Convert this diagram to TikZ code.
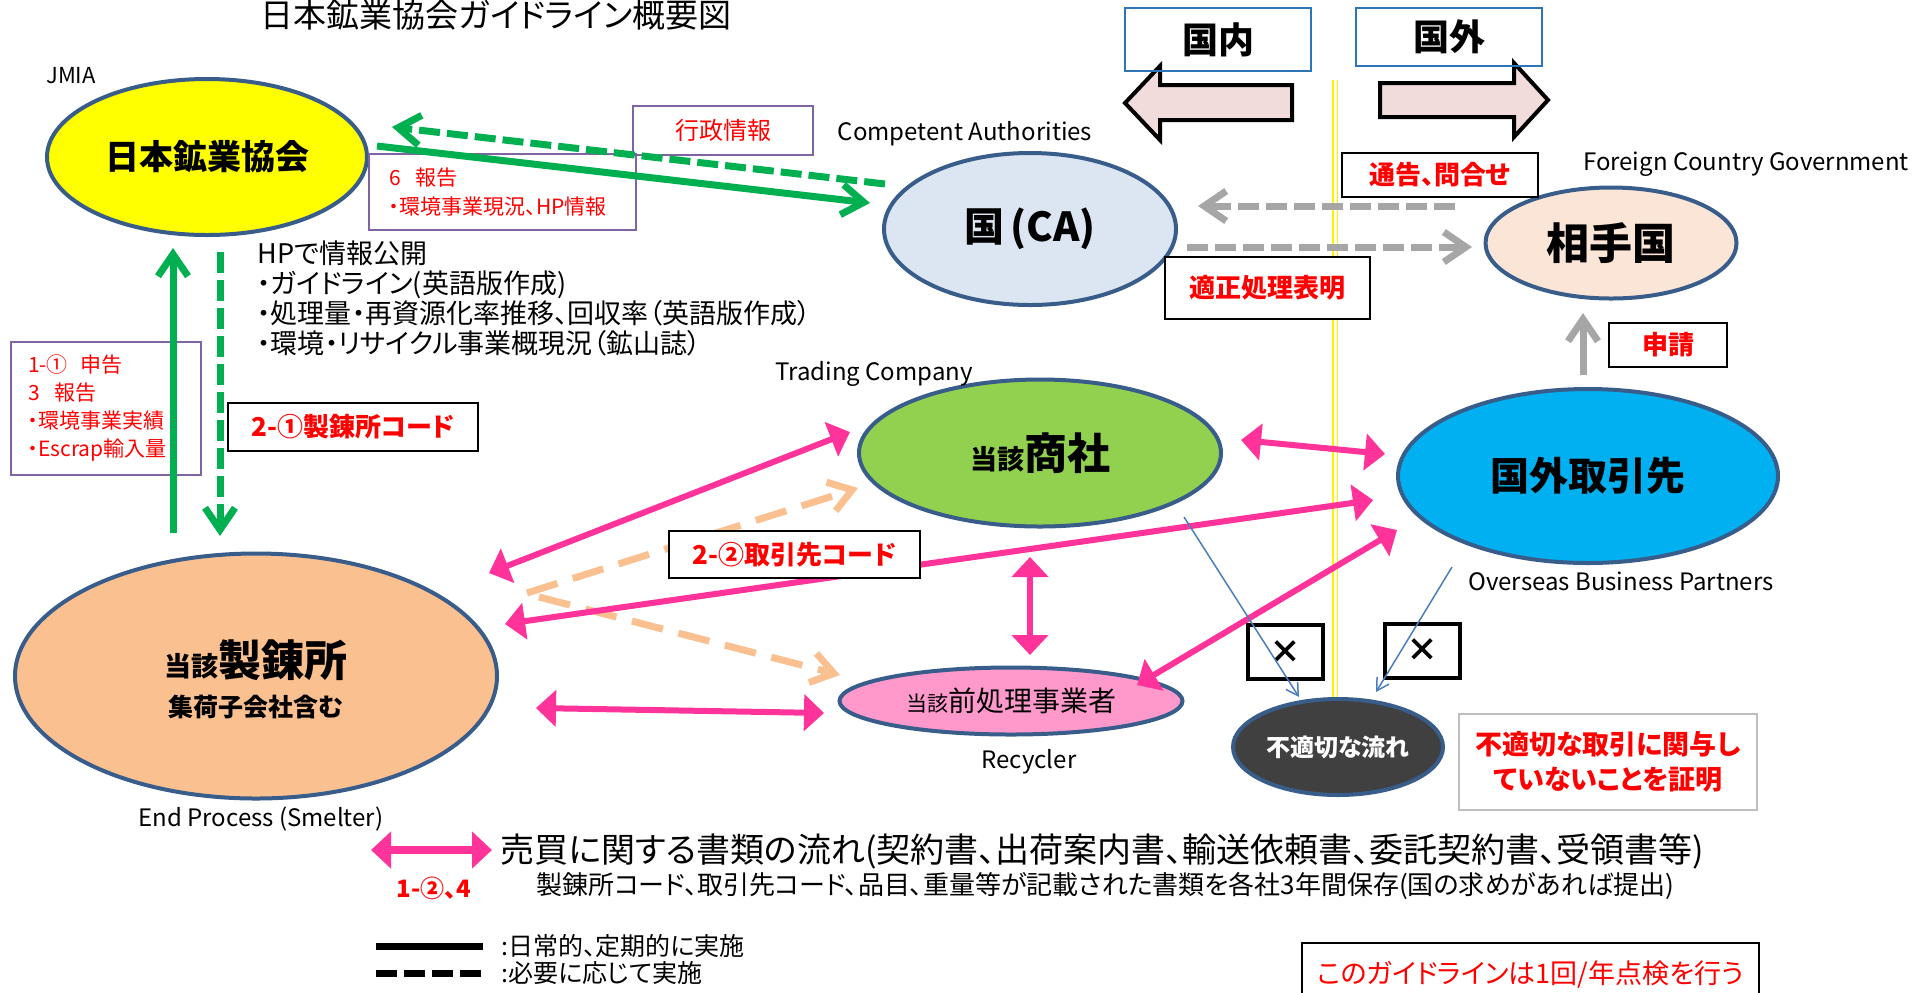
\documentclass[tikz,border=0pt]{standalone}
\usepackage{fontspec}
\setmainfont{Noto Sans CJK JP}[RawFeature={+palt}]
\usetikzlibrary{shapes.geometric,arrows.meta,positioning}

\definecolor{ringblue}{HTML}{385D8A}
\definecolor{jmiayellow}{HTML}{FFFF00}
\definecolor{cablue}{HTML}{DCE6F2}
\definecolor{aitepeach}{HTML}{FBE5D6}
\definecolor{kaigaiblue}{HTML}{00B0F0}
\definecolor{shoshagreen}{HTML}{92D050}
\definecolor{zenpink}{HTML}{FF99CC}
\definecolor{smelterorange}{HTML}{FAC090}
\definecolor{futekigray}{HTML}{404040}
\definecolor{arrpink}{HTML}{FF3399}
\definecolor{arrgreen}{HTML}{00B050}
\definecolor{arrgray}{HTML}{A6A6A6}
\definecolor{arrpeach}{HTML}{FAC090}
\definecolor{thinblue}{HTML}{4A7EBB}
\definecolor{bigarrfill}{HTML}{F2DCDB}
\definecolor{naigaiblue}{HTML}{2E75B6}
\definecolor{notepurple}{HTML}{8064A2}
\definecolor{notegray}{HTML}{BFBFBF}

\newcommand{\fsz}[1]{\fontsize{#1}{#1}\selectfont}

\tikzset{
    org/.style={ellipse, draw=ringblue, line width=2pt, inner sep=0pt, align=center},
    codebox/.style={draw, line width=0.8pt, fill=white, text=red, inner sep=0pt,
        align=center, font=\fsz{13}\bfseries},
    notebox/.style={draw=notepurple, line width=0.8pt, text=red, align=left},
    tag/.style={inner sep=0pt, font=\fsz{12}},
    bigarrow/.style={draw=black, fill=bigarrfill, line width=2pt, line join=miter},
    xbox/.style={draw, line width=2pt, minimum width=37.5pt, minimum height=27pt,
        inner sep=0pt, font=\fsz{16}\bfseries}
}

\begin{document}
\begin{tikzpicture}[
    x=0.5pt, y=-0.5pt,
    barb/.style={-{Straight Barb[length=11pt,width=15pt]}},
    pinkarr/.style={{Triangle[length=10pt,width=18pt]}-{Triangle[length=10pt,width=18pt]},
        line width=3pt, arrpink},
    greenarr/.style={barb, line width=3.5pt, arrgreen},
    grayarr/.style={barb, line width=3.5pt, arrgray},
    peacharr/.style={barb, line width=3.5pt, arrpeach, dash pattern=on 16pt off 8pt},
    thinarr/.style={-{Straight Barb[length=6pt,width=7pt]}, line width=0.75pt, thinblue},
    asneeded/.style={dash pattern=on 10.5pt off 3.5pt},
]
\useasboundingbox (0,0) rectangle (1925,992);
\clip (0,0) rectangle (1925,992);

% ============ Title / border ============

\node[tag, font=\fsz{16.5}] (title) at (496,15) {日本鉱業協会ガイドライン概要図};

\draw[yellow, double=white, double distance=1.5pt, line width=0.75pt]
    (1335,80) -- (1335,698);

\draw[bigarrow] (1292,85) -- (1160,85) -- (1160,66) -- (1125,103)
    -- (1160,140) -- (1160,120) -- (1292,120) -- cycle;
\draw[bigarrow] (1380,83) -- (1514,83) -- (1514,63) -- (1548,100)
    -- (1514,137) -- (1514,117) -- (1380,117) -- cycle;

\node[draw=naigaiblue, line width=1pt, minimum width=93pt, minimum height=31.5pt,
    font=\fsz{18}\bfseries] (naibox) at (1218,39.5) {国内};
\node[draw=naigaiblue, line width=1pt, minimum width=93pt, minimum height=29pt,
    font=\fsz{18}\bfseries] (gaibox) at (1449,37) {国外};

% ============ Organisations ============

\node[org, fill=jmiayellow, minimum width=160pt, minimum height=78pt,
    font=\fsz{17}\bfseries] (jmia) at (207,157) {日本鉱業協会};
\node[org, fill=cablue, minimum width=146pt, minimum height=76pt,
    font=\fsz{20}\bfseries] (ca) at (1030,229) {国\,(CA)};
\node[org, fill=aitepeach, minimum width=125.5pt, minimum height=55.5pt,
    font=\fsz{21.5}\bfseries] (aite) at (1611,243) {相手国};
\node[org, fill=kaigaiblue, minimum width=190pt, minimum height=87pt,
    font=\fsz{19.5}\bfseries] (kaigai) at (1588,476) {国外取引先};
\node[org, fill=shoshagreen, minimum width=181pt, minimum height=73.5pt,
    font=\bfseries] (shosha) at (1040,453) {{\fsz{13.5}当該}{\fsz{21.5}商社}};
\node[org, fill=zenpink, minimum width=171.5pt, minimum height=33.5pt]
    (zensho) at (1011,701) {{\fsz{10.5}当該}{\fsz{14}前処理事業者}};
\node[org, fill=smelterorange, minimum width=241pt, minimum height=122.5pt]
    (smelter) at (256,676) {};
\node[tag, font=\bfseries] (smname) at (256,660) {{\fsz{13.5}当該}{\fsz{21.5}製錬所}};
\node[tag, font=\fsz{12.5}\bfseries, below=7pt of smname] (smsub) {集荷子会社含む};
\node[org, fill=futekigray, minimum width=105pt, minimum height=48pt,
    text=white, font=\fsz{12}\bfseries] (futeki) at (1338,747) {不適切な流れ};

% Labels
\node[tag, font=\fsz{11}] (jmialbl) at (71,76) {JMIA};
\node[tag] (calbl) at (965,134) {Competent Authorities};
\node[tag] (aitelbl) at (1746,164) {Foreign Country Government};
\node[tag, below=3pt of kaigai, xshift=16.5pt] (kaigailbl) {Overseas Business Partners};
\node[tag] (shoshalbl) at (874,374) {Trading Company};
\node[tag, below=6pt of zensho, xshift=9pt] (zenlbl) {Recycler};
\node[tag] (smlbl) at (261,819) {End Process (Smelter)};

% ============ Notes ============

\node[notebox, minimum width=90pt, minimum height=24.5pt, inner sep=0pt, align=center,
    font=\fsz{12}] (gyosei) at (723,130.5) {行政情報};
\node[notebox, minimum height=38pt, inner xsep=10pt, inner ysep=0pt, text width=113.5pt,
    font=\fontsize{10.5}{14.5}\selectfont] (report6) at (502.5,192)
    {6\hspace{0.7em}報告\\・環境事業現況、HP情報};
\node[notebox, minimum height=66.5pt, inner xsep=8.5pt, inner ysep=0pt, text width=78pt,
    font=\fontsize{10.5}{14}\selectfont] (shinkoku) at (106,408.5)
    {1-①\hspace{0.6em}申告\\3\hspace{0.7em}報告\\・環境事業実績\\・Escrap輸入量};
\node[anchor=west, align=left, inner sep=0pt, font=\fontsize{13.5}{15}\selectfont]
    (hpinfo) at (257,298)
    {HPで情報公開\\・ガイドライン(英語版作成)\\・処理量・再資源化率推移、回収率（英語版作成）\\・環境・リサイクル事業概現況（鉱山誌）};

\node[codebox, minimum width=98pt, minimum height=22pt] (tsukoku) at (1440,175) {通告、問合せ};
\node[codebox, minimum width=102.5pt, minimum height=31pt] (tekisei) at (1267.5,288) {適正処理表明};
\node[codebox, minimum width=59pt, minimum height=22pt] (shinsei) at (1668,345) {申請};
\node[codebox, minimum width=125pt, minimum height=24pt] (smcode) at (353,427) {2-①製錬所コード};

\node[xbox] (ng1) at (1285.5,652) {×};
\node[xbox] (ng2) at (1422,650.5) {×};

\node[draw=notegray, line width=1pt, minimum width=149pt, minimum height=48pt,
    text=red, align=center, font=\fontsize{13.5}{17.5}\selectfont\bfseries]
    (shomei) at (1608,762) {不適切な取引に関与し\\ていないことを証明};

% ============ Arrow ends ============

\coordinate (jm-out) at (377,146);   \coordinate (ca-in) at (870,203);
\coordinate (ca-out) at (885,184);   \coordinate (jm-in) at (392,127);
\coordinate (sm-up) at (173,533);    \coordinate (jm-up) at (173,248);
\coordinate (jm-dn) at (220,252);    \coordinate (sm-dn) at (220,536);
\coordinate (ai-out) at (1455,206);  \coordinate (ca-gin) at (1198,206);
\coordinate (ca-gout) at (1187,247); \coordinate (ai-gin) at (1472,247);
\coordinate (kg-up) at (1583,375);   \coordinate (ai-up) at (1583,313);
\coordinate (sm-a) at (489,573);     \coordinate (sh-a) at (850,432);
\coordinate (sm-b) at (505,624);     \coordinate (kg-b) at (1373,500);
\coordinate (sh-c) at (1241,440);    \coordinate (kg-c) at (1385,454);
\coordinate (sh-d) at (1030,557);    \coordinate (zs-d) at (1030,655);
\coordinate (zs-e) at (1137,685);    \coordinate (kg-e) at (1397,530);
\coordinate (sm-f) at (536,708);     \coordinate (zs-f) at (824,713);
\coordinate (sm-p1) at (527,593);    \coordinate (sh-p1) at (858,488);
\coordinate (sm-p2) at (539,597);    \coordinate (zs-p2) at (840,675);
\coordinate (sh-x) at (1184,517);    \coordinate (fu-x1) at (1299,697);
\coordinate (kg-x) at (1452,567);    \coordinate (fu-x2) at (1376,692);

% ============ Arrows ============

\draw[greenarr] (jm-out) -- (ca-in);
\draw[greenarr, asneeded] (ca-out) -- (jm-in);
\draw[greenarr] (sm-up) -- (jm-up);
\draw[greenarr, asneeded] (jm-dn) -- (sm-dn);

\draw[grayarr, asneeded] (ai-out) -- (ca-gin);
\draw[grayarr, asneeded] (ca-gout) -- (ai-gin);
\draw[grayarr] (kg-up) -- (ai-up);

\draw[peacharr] (sm-p1) -- (sh-p1);
\draw[peacharr] (sm-p2) -- (zs-p2);

\draw[pinkarr] (sm-a) -- (sh-a);
\draw[pinkarr] (sm-b) -- (kg-b);
\draw[pinkarr] (sh-c) -- (kg-c);
\draw[pinkarr] (sh-d) -- (zs-d);
\draw[pinkarr] (zs-e) -- (kg-e);
\draw[pinkarr] (sm-f) -- (zs-f);

\draw[thinarr] (sh-x) -- (fu-x1);
\draw[thinarr] (kg-x) -- (fu-x2);

\node[codebox, minimum width=125.5pt, minimum height=23.5pt] (trcode) at (794.5,554.5) {2-②取引先コード};

% ============ Legend ============

\coordinate (lg-a) at (371,850);  \coordinate (lg-b) at (492,850);
\coordinate (lg-c) at (376,946);  \coordinate (lg-d) at (483,946);
\coordinate (lg-e) at (376,973);  \coordinate (lg-f) at (483,973);

\draw[pinkarr, line width=4pt] (lg-a) -- (lg-b);
\draw[line width=3.5pt] (lg-c) -- (lg-d);
\draw[line width=3.5pt, asneeded] (lg-e) -- (lg-f);

\node[tag, text=red, font=\fsz{12}\bfseries] (lgcode) at (434,888) {1-②、4};
\node[tag, anchor=west, font=\fsz{17}] (flow) at (500,851)
    {売買に関する書類の流れ(契約書、出荷案内書、輸送依頼書、委託契約書、受領書等)};
\node[tag, anchor=west, font=\fsz{13}] (keep) at (536,886)
    {製錬所コード、取引先コード、品目、重量等が記載された書類を各社3年間保存(国の求めがあれば提出)};
\node[tag, anchor=west, font=\fsz{12.5}] (lgsolid) at (501,946) {:日常的、定期的に実施};
\node[tag, anchor=west, font=\fsz{12.5}] (lgdash) at (501,973) {:必要に応じて実施};

\node[draw, line width=0.8pt, minimum width=228.5pt, minimum height=31pt, text=red,
    font=\fsz{13.5}] (check) at (1530.5,974) {このガイドラインは1回/年点検を行う};

\end{tikzpicture}
\end{document}
